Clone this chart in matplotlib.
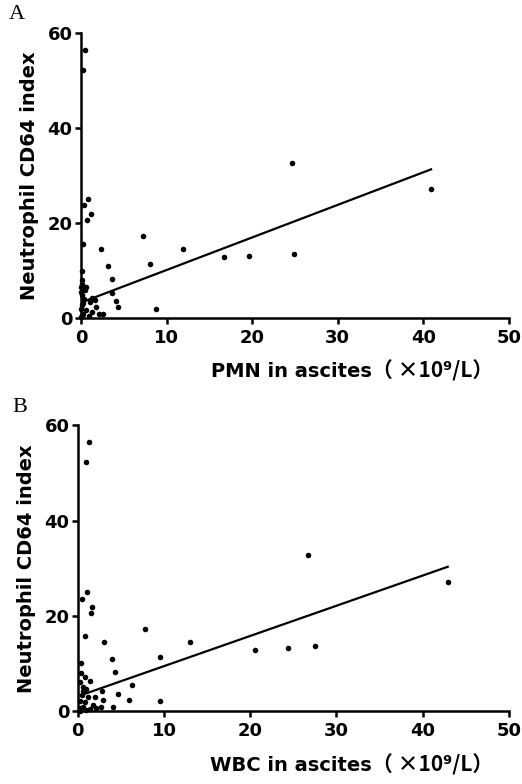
import matplotlib
matplotlib.use("Agg")
import matplotlib.pyplot as plt
import numpy as np

# panel A: PMN in ascites vs CD64 index
pmn_x = [0.47, 0.27, 0.78, 0.35, 1.17, 0.7, 0.3, 7.2, 2.4, 11.95, 16.7, 19.6,
         3.15, 8.1, 3.6, 3.66, 4.1, 4.3, 8.8, 2.6, 2.1, 1.75, 1.3, 1.05, 1.6,
         0.55, 0.5, 0.08, 0.08, 0.1, 0.05, 0.05, 0.1, 0.2, 0.05, 0.58, 1.25,
         0.1, 1.0, 0.05, 24.6, 40.9, 24.9, 0.3, 0.15, 0.4]
pmn_y = [56.4, 52.2, 25.0, 23.8, 22.0, 20.6, 15.7, 17.2, 14.6, 14.6, 12.8, 13.1,
         11.0, 11.5, 8.35, 5.4, 3.7, 2.4, 2.0, 0.8, 0.8, 2.3, 4.3, 3.5, 3.9,
         6.5, 5.9, 9.9, 8.0, 7.3, 6.6, 5.6, 4.8, 3.2, 2.0, 1.7, 1.3,
         0.6, 0.4, 0.3, 32.7, 27.1, 13.6, 1.0, 2.8, 4.0]
pmn_fit = (0.685, 3.3)   # slope, intercept

# panel B: WBC in ascites vs CD64 index
wbc_x = [1.31, 1.0, 1.08, 0.54, 1.7, 1.5, 0.89, 7.85, 3.05, 13.0, 20.6, 24.4,
         27.5, 26.7, 42.9, 4.0, 9.5, 4.3, 6.33, 1.47, 2.86, 4.68, 1.97, 5.95,
         9.5, 2.97, 4.1, 2.67, 1.78, 2.16, 1.4, 0.35, 0.42, 0.8, 0.31, 0.6,
         1.0, 0.65, 0.46, 1.2, 0.8, 0.3, 0.58, 0.3, 1.0, 0.3]
wbc_y = [56.5, 52.3, 25.0, 23.6, 21.8, 20.6, 15.7, 17.2, 14.5, 14.6, 12.9, 13.2,
         13.6, 32.8, 27.2, 10.9, 11.4, 8.3, 5.4, 6.3, 4.3, 3.5, 3.0, 2.3,
         2.1, 2.3, 0.9, 0.9, 1.26, 0.55, 0.36, 10.0, 7.9, 7.2, 6.2, 5.1,
         4.7, 4.3, 3.4, 3.0, 2.0, 2.2, 0.9, 0.6, 0.3, 0.0]
wbc_fit = (0.634, 3.1)

xticks = [0, 10, 20, 30, 40, 50]
yticks = [0, 20, 40, 60]
unit = "（ ×10⁹/L）"

fig = plt.figure(figsize=(5.22, 7.84), dpi=100)

# rect, data, x label name, panel letter, letter pos, x label pos
panels = [
    ([0.155, 0.594, 0.820, 0.364], pmn_x, pmn_y, pmn_fit, "PMN in ascites",
     "A", (0.016, 0.969), (0.405, 0.514)),
    ([0.149, 0.093, 0.826, 0.3645], wbc_x, wbc_y, wbc_fit, "WBC in ascites",
     "B", (0.024, 0.468), (0.402, 0.011)),
]

for rect, xs, ys, fit, xname, letter, lpos, xpos in panels:
    ax = fig.add_axes(rect)
    ax.scatter(xs, ys, s=16, color="black", zorder=3, clip_on=False, linewidths=0)
    xf = np.array([min(xs), max(xs)])
    ax.plot(xf, fit[0] * xf + fit[1], color="black", lw=1.6, zorder=2)
    ax.set_xlim(0, 50)
    ax.set_ylim(0, 60)
    ax.set_xticks(xticks)
    ax.set_yticks(yticks)
    for s in ["top", "right"]:
        ax.spines[s].set_visible(False)
    for s in ["left", "bottom"]:
        ax.spines[s].set_linewidth(1.8)
    ax.tick_params(direction="out", length=4, width=1.8, pad=2)
    ax.tick_params(axis="x", pad=4)
    for lab in ax.get_xticklabels() + ax.get_yticklabels():
        lab.set_fontfamily("DejaVu Sans")
        lab.set_fontweight("bold")
        lab.set_fontsize(13)
    ax.set_ylabel("Neutrophil CD64 index", fontsize=14, fontweight="bold",
                  family="DejaVu Sans", labelpad=6)
    # x label: bold name followed by the unit in a CJK font
    t1 = fig.text(xpos[0], xpos[1], xname, fontsize=14, fontweight="bold",
                  family="DejaVu Sans", ha="left", va="bottom")
    ax.annotate(unit, xy=(1, 0), xycoords=t1, ha="left", va="bottom",
                fontsize=15, fontweight="bold",
                family=["Noto Sans CJK SC", "DejaVu Sans"], annotation_clip=False)
    fig.text(lpos[0], lpos[1], letter, fontsize=16, family="Liberation Serif",
             ha="left", va="bottom")

fig.savefig("out.png", dpi=100)
